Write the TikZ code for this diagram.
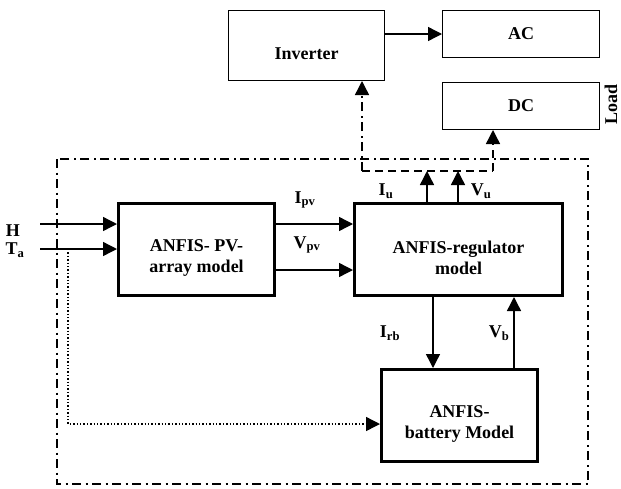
\documentclass[tikz,border=0pt]{standalone}
\usepackage{fontspec}
\setmainfont{Liberation Serif}
\usetikzlibrary{arrows.meta, positioning}

\begin{document}
\begin{tikzpicture}[
    x=1pt, y=-1pt,
    font=\fontsize{18}{21}\selectfont\bfseries,
    thinbox/.style={draw, line width=1.4pt, minimum width=156.6pt, minimum height=46.6pt, inner sep=0pt},
    thickbox/.style={draw, line width=3pt, minimum width=156pt, minimum height=92pt, inner sep=0pt},
    boxtext/.style={align=center, yshift=-8pt},
    sig/.style={-{Triangle[length=14pt, width=14pt]}, line width=1.4pt},
    dashdot/.style={line width=1.4pt, dash pattern=on 9pt off 4.5pt on 2pt off 4.5pt},
    dashline/.style={line width=1.4pt, dash pattern=on 8pt off 5pt},
    lbl/.style={inner sep=0pt}
]
    \useasboundingbox (0,0) rectangle (621,488);

    % system frame
    \draw[dashdot] (57,159) rectangle (588,484);

    % ANFIS blocks
    \node[thickbox, label={[boxtext]center:ANFIS- PV-\\array model}] (pv) at (196.5,249.5) {};
    \node[thickbox, minimum width=208pt, right=77pt of pv,
          label={[boxtext]center:ANFIS-regulator\\model}] (reg) {};
    \node[thickbox, below=71pt of reg, xshift=1pt,
          label={[boxtext]center:ANFIS-\\battery Model}] (bat) {};

    % load side
    \node[thinbox, minimum width=155.6pt, minimum height=69.6pt,
          label={[boxtext]center:Inverter}] (inv) at (306.5,45.5) {};
    \node[thinbox, right=57pt of inv.north east, anchor=north west] (ac) {AC};
    \node[thinbox, below=24pt of ac] (dc) {DC};
    \node[lbl, rotate=90] (load) at (611,104) {Load};

    \draw[sig] (inv.east |- ac.west) -- (ac.west);

    % inputs
    \node[lbl] (h) at (13,231) {H};
    \node[lbl] (ta) at (15,250) {T\textsubscript{a}};
    \coordinate (hin) at (40,224);
    \coordinate (tin) at (40,249);
    \coordinate (tap) at (68,249);
    \draw[sig] (hin) -- (hin -| pv.west);
    \draw[sig] (tin) -- (tin -| pv.west);
    \draw[sig, dotted] (tap) |- ([yshift=-8.5pt]bat.west);

    % PV -> regulator
    \draw[sig] (pv.east |- hin) -- (reg.west |- hin);
    \draw[sig] ([yshift=-20.5pt]pv.east) -- ([yshift=-20.5pt]reg.west);
    \node[lbl] (ipv) at (305,200) {I\textsubscript{pv}};
    \node[lbl] (vpv) at (307,245) {V\textsubscript{pv}};

    % regulator <-> battery
    \draw[sig] ([xshift=-25.5pt]reg.south) -- ([xshift=-25.5pt]reg.south |- bat.north);
    \draw[sig] ([xshift=55.5pt]reg.south |- bat.north) -- ([xshift=55.5pt]reg.south);
    \node[lbl] (irb) at (390,333) {I\textsubscript{rb}};
    \node[lbl] (vb) at (499,333) {V\textsubscript{b}};

    % regulator -> load
    \coordinate (jl) at (362,171);
    \coordinate (jr) at (493,171);
    \coordinate (iu) at (427,171);
    \coordinate (vu) at (458,171);
    \draw[dashline] (jl) -- (jr);
    \draw[sig, dashdot] (jl) -- (jl |- inv.south);
    \draw[sig, dashline] (jr) -- (jr |- dc.south);
    \draw[sig] (iu |- reg.north) -- (iu);
    \draw[sig] (vu |- reg.north) -- (vu);
    \node[lbl] (iul) at (386,191) {I\textsubscript{u}};
    \node[lbl] (vul) at (481,191) {V\textsubscript{u}};
\end{tikzpicture}
\end{document}
